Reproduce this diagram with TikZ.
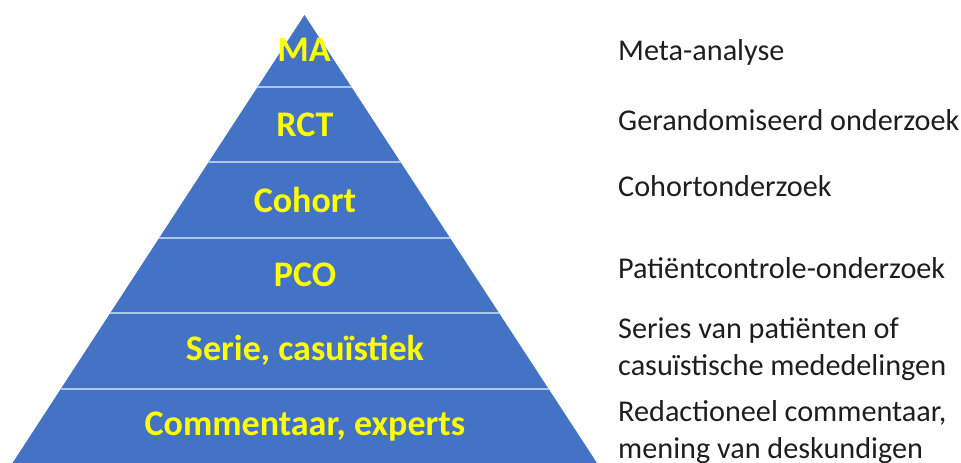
\documentclass[tikz,border=0pt]{standalone}
\usepackage{fontspec}
\setmainfont{Carlito}
\usepackage{tikz}
\usetikzlibrary{calc}

\definecolor{pyrblue}{HTML}{4472C4}
\definecolor{sepblue}{HTML}{A9C8EC}
\definecolor{lvlyellow}{HTML}{FFFF00}
\definecolor{txtgray}{HTML}{1E1E1E}

\tikzset{
	level/.style={text=lvlyellow, font=\fontsize{20.5}{24}\selectfont\bfseries},
	descr/.style={text=txtgray, anchor=west, align=left, font=\fontsize{17.2}{21}\selectfont},
}

\begin{document}
\begin{tikzpicture}[x=0.02cm,y=-0.02cm]
	\useasboundingbox (0,0) rectangle (961,463);
	%\draw[help lines] (0,0) grid[step=50] (961,463);
	\coordinate (top) at (304.5,15);
	\coordinate (bl) at (12.5,463);
	\coordinate (br) at (597,463);
	\fill[pyrblue] (top) -- (bl) -- (br) -- cycle;
	\foreach \t in {0.161,0.329,0.498,0.666,0.835}
		\draw[sepblue, line width=1.2pt] ($(top)!\t!(bl)$) -- ($(top)!\t!(br)$);

	\node[level] (ma) at (304,50) {MA};
	\node[level] (rct) at (305,125) {RCT};
	\node[level] (cohort) at (305,200) {Cohort};
	\node[level] (pco) at (305,275) {PCO};
	\node[level] (serie) at (305,350) {Serie, casuïstiek};
	\node[level] (comm) at (305,427) {Commentaar, experts};

	\node[descr] (meta) at (612,52) {Meta-analyse};
	\node[descr] (gerand) at (612,120) {Gerandomiseerd onderzoek};
	\node[descr] (cohortonderz) at (612,186) {Cohortonderzoek};
	\node[descr] (patcontr) at (612,268) {Patiëntcontrole-onderzoek};
	\node[descr] (series) at (612,349) {Series van patiënten of\\casuïstische mededelingen};
	\node[descr] (redact) at (612,432) {Redactioneel commentaar,\\mening van deskundigen};
\end{tikzpicture}
\end{document}
